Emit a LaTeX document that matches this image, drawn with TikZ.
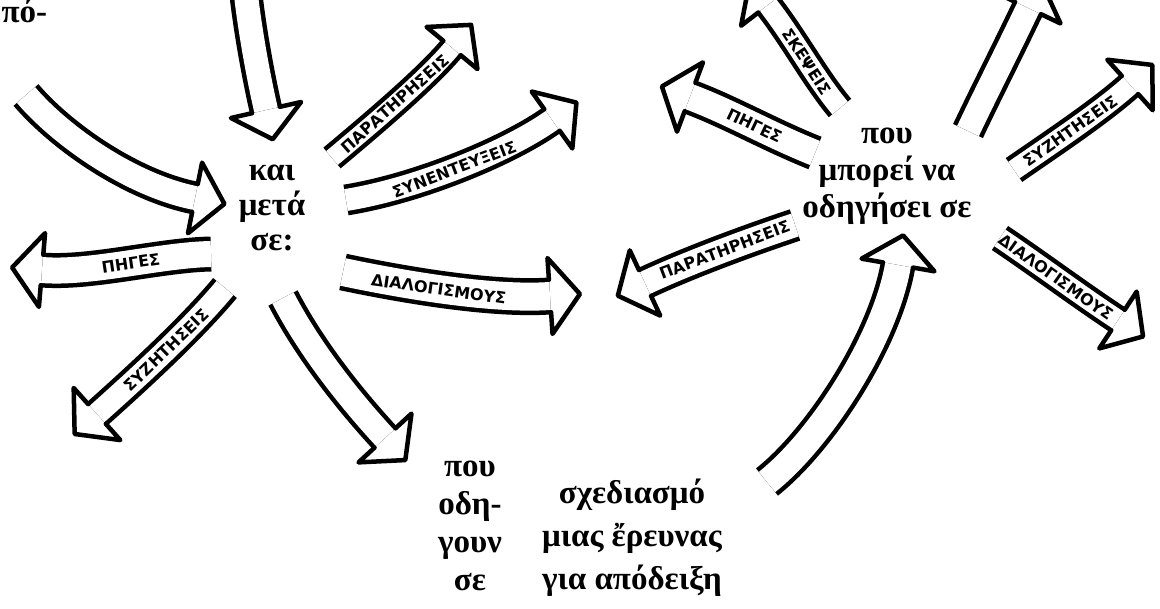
\documentclass[tikz,border=0pt]{standalone}
\usepackage{fontspec}
\setmainfont{Liberation Serif}
\newfontfamily\handfont{DejaVu Sans}
\usetikzlibrary{calc}

% hollow hand-drawn arrow: [inner width]{tail}{ctrl 1}{ctrl 2}{head base}{label}
\newcommand{\hollowarrow}[6][24]{%
  \pgfmathsetmacro{\shafthalf}{#1/2+2.25}%
  \pgfmathsetmacro{\headhalf}{#1/2+24}%
  \draw[shaft, double distance=#1pt] (#2) .. controls (#3) and (#4) .. (#5)
    node[arrlbl, pos=0.47, sloped] {#6};
  \draw[headline] ($(#5)!\shafthalf pt!90:(#4)$) -- ($(#5)!\headhalf pt!90:(#4)$)
    -- ($(#5)!-30pt!(#4)$) -- ($(#5)!\headhalf pt!-90:(#4)$)
    -- ($(#5)!\shafthalf pt!-90:(#4)$);
}

\begin{document}
\begin{tikzpicture}[x=1pt, y=-1pt,
    shaft/.style={draw=black, line width=4.5pt, double=white},
    headline/.style={draw=black, line width=4.5pt, line join=round, line cap=round},
    arrlbl/.style={font=\handfont\bfseries\fontsize{16}{16}\selectfont, inner sep=0pt},
    txt/.style={align=center, font=\bfseries\fontsize{33}{#1}\selectfont}]
  \clip (0,0) rectangle (1160,609);
  % --- Texts ---
  \node[txt=37, anchor=base west] (apo) at (-2,23) {πό-};
  \node[txt=35] (kaimeta) at (272,208) {και\\μετά\\σε:};
  \node[txt=37] (mporei) at (887,176) {που\\μπορεί να\\οδηγήσει σε};
  \node[txt=38] (odigoun) at (470,526) {που\\οδη-\\γουν\\σε};
  \node[txt=43] (sxedio) at (632,538) {σχεδιασμό\\μιας ἔρευνας\\για απόδειξη};
  % --- Arrows around "και μετά σε:" ---
  \coordinate (dnT) at (246,-5);   \coordinate (dnB) at (266,110);
  \coordinate (inT) at (26,95);    \coordinate (inB) at (195,198);
  \coordinate (pgLT) at (211,254); \coordinate (pgLB) at (42,270);
  \coordinate (szLT) at (225,288); \coordinate (szLB) at (97,414);
  \coordinate (prLT) at (332,158); \coordinate (prLB) at (452,48);
  \coordinate (snT) at (346,200);  \coordinate (snB) at (552,120);
  \coordinate (dlT) at (343,272);  \coordinate (dlB) at (550,296);
  \coordinate (toT) at (283,298);  \coordinate (toB) at (385,438);
  \hollowarrow[24]{dnT}{250,30}{258,75}{dnB}{}
  \hollowarrow[24]{inT}{60,135}{130,185}{inB}{}
  \hollowarrow[26]{pgLT}{160,255}{90,274}{pgLB}{ΠΗΓΕΣ}
  \hollowarrow[22]{szLT}{190,330}{135,380}{szLB}{ΣΥΖΗΤΗΣΕΙΣ}
  \hollowarrow[18]{prLT}{375,122}{428,77}{prLB}{ΠΑΡΑΤΗΡΗΣΕΙΣ}
  \hollowarrow[22]{snT}{420,188}{510,150}{snB}{ΣΥΝΕΝΤΕΥΞΕΙΣ}
  \hollowarrow[28]{dlT}{400,284}{490,300}{dlB}{ΔΙΑΛΟΓΙΣΜΟΥΣ}
  \hollowarrow[24]{toT}{310,350}{350,400}{toB}{}
  % --- Arrows around "που μπορεί να οδηγήσει σε" ---
  \coordinate (skT) at (840,108);   \coordinate (skB) at (768,5);
  \coordinate (pgRT) at (815,153);  \coordinate (pgRB) at (690,97);
  \coordinate (prRT) at (795,225);  \coordinate (prRB) at (645,283);
  \coordinate (upT) at (767,482);   \coordinate (upB) at (898,265);
  \coordinate (outT) at (968,131);  \coordinate (outB) at (1028,8);
  \coordinate (szRT) at (1014,170); \coordinate (szRB) at (1130,85);
  \coordinate (dlRT) at (1000,238); \coordinate (dlRB) at (1118,320);
  \hollowarrow[20]{skT}{815,78}{795,40}{skB}{ΣΚΕΨΕΙΣ}
  \hollowarrow[26]{pgRT}{770,135}{730,112}{pgRB}{ΠΗΓΕΣ}
  \hollowarrow[24]{prRT}{750,240}{690,262}{prRB}{ΠΑΡΑΤΗΡΗΣΕΙΣ}
  \hollowarrow[26]{upT}{820,440}{885,340}{upB}{}
  \hollowarrow[24]{outT}{985,95}{1008,50}{outB}{}
  \hollowarrow[20]{szRT}{1050,145}{1100,112}{szRB}{ΣΥΖΗΤΗΣΕΙΣ}
  \hollowarrow[20]{dlRT}{1040,265}{1080,295}{dlRB}{ΔΙΑΛΟΓΙΣΜΟΥΣ}
\end{tikzpicture}
\end{document}
